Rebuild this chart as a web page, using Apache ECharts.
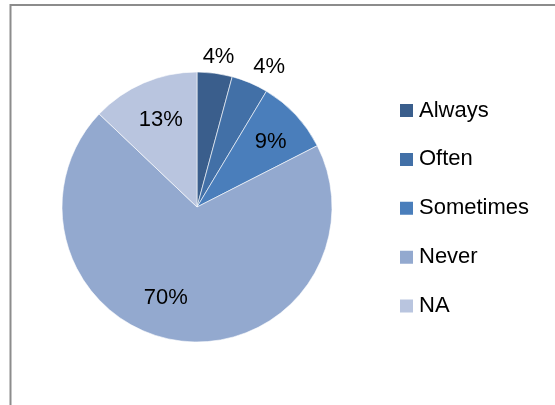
<!DOCTYPE html>
<html>
<head>
<meta charset="utf-8">
<script src="https://cdn.jsdelivr.net/npm/echarts@6/dist/echarts.min.js"></script>
<style>
  html, body { margin: 0; padding: 0; background: #fff; }
  #chart { width: 555px; height: 405px; }
</style>
</head>
<body>
<div id="chart"></div>
<script>
const categories = ['Always', 'Often', 'Sometimes', 'Never', 'NA'];
const shares = [4.2, 4.4, 8.9, 69.6, 12.9];
const colors = ['#3A5E8C', '#4270A7', '#4A7EBB', '#93A9CF', '#B9C5DF'];
// slices whose label sits outside the pie
const outsideLabel = [true, true, false, false, false];

const center = [197, 207];
const font = '"Liberation Sans", Arial, sans-serif';

const chart = echarts.init(document.getElementById('chart'));

function pct(p) { return Math.round(p.value) + '%'; }

function labelData(outside) {
  return categories.map((c, i) => ({
    name: c,
    value: shares[i],
    label: { show: outsideLabel[i] === outside }
  }));
}

// small nudges so labels sit where the original's "best fit" put them
function nudge(p) {
  const d = [[1, 5], [11, 3], [1, 3], [-17, -8], [3, 4]][p.dataIndex];
  return { dx: d[0], dy: d[1] };
}

const hidden = { color: 'rgba(0,0,0,0)', borderWidth: 0 };
const labelStyle = { position: 'inside', color: '#000', fontSize: 22, fontFamily: font, formatter: pct };

chart.setOption({
  animation: false,
  graphic: [{
    type: 'rect',
    shape: { x: 10.5, y: 5, width: 600, height: 500 },
    style: { fill: 'none', stroke: '#8c8c8c', lineWidth: 2 },
    silent: true
  }],
  legend: {
    data: categories,
    orient: 'vertical',
    left: 393,
    top: 94.5,
    icon: 'rect',
    itemWidth: 15,
    itemHeight: 15,
    itemGap: 26.9,
    textStyle: { color: '#000', fontSize: 22, fontFamily: font, lineHeight: 20, padding: [0, 0, 0, 0] }
  },
  series: [
    {
      type: 'pie',
      center: center,
      radius: 135,
      startAngle: 90,
      clockwise: true,
      avoidLabelOverlap: false,
      label: { show: false },
      labelLine: { show: false },
      itemStyle: { borderColor: '#ffffff', borderWidth: 0.6 },
      emphasis: { disabled: true },
      data: categories.map((c, i) => ({ name: c, value: shares[i], itemStyle: { color: colors[i] } }))
    },
    {
      // carries the labels drawn inside the slices
      type: 'pie',
      silent: true,
      center: center,
      radius: [58, 135],
      startAngle: 90,
      avoidLabelOverlap: false,
      itemStyle: hidden,
      label: labelStyle,
      labelLine: { show: false },
      emphasis: { disabled: true },
      labelLayout: nudge,
      data: labelData(false)
    },
    {
      // carries the labels of the thin slices, just outside the rim
      type: 'pie',
      silent: true,
      center: center,
      radius: [140, 166],
      startAngle: 90,
      avoidLabelOverlap: false,
      itemStyle: hidden,
      label: labelStyle,
      labelLine: { show: false },
      emphasis: { disabled: true },
      labelLayout: nudge,
      data: labelData(true)
    }
  ]
});
</script>
</body>
</html>
